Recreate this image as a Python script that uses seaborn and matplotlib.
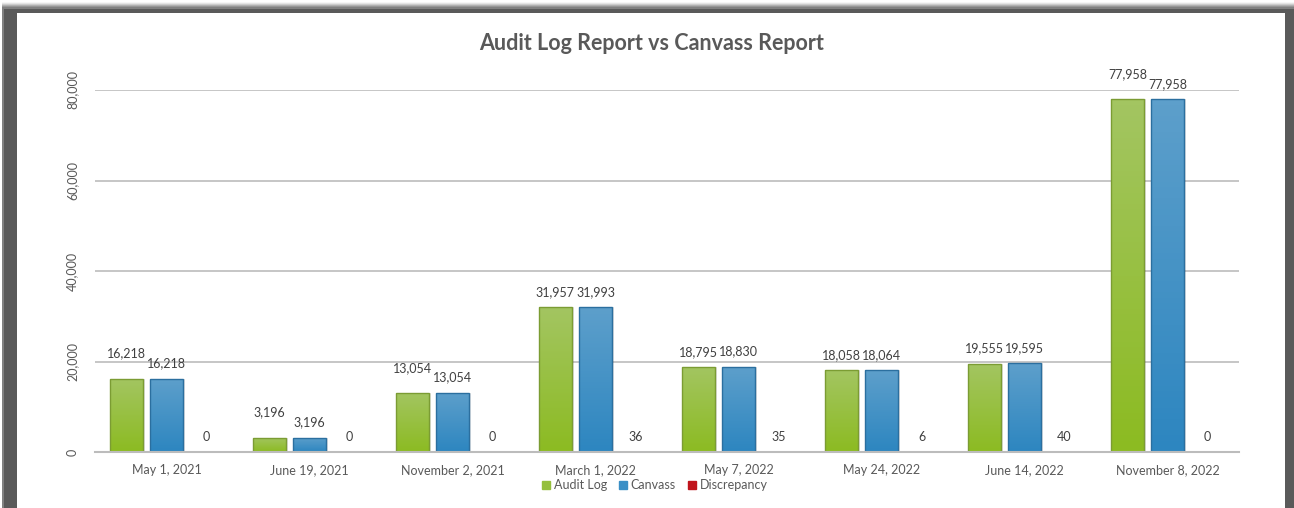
import numpy as np
import pandas as pd
import matplotlib
matplotlib.use("Agg")
import matplotlib.pyplot as plt
import seaborn as sns
from matplotlib.colors import LinearSegmentedColormap
from matplotlib.patches import Rectangle
from matplotlib.ticker import FuncFormatter

# ---- data ----
dates = ["May 1, 2021", "June 19, 2021", "November 2, 2021", "March 1, 2022",
         "May 7, 2022", "May 24, 2022", "June 14, 2022", "November 8, 2022"]
audit_log = [16218, 3196, 13054, 31957, 18795, 18058, 19555, 77958]
canvass = [16218, 3196, 13054, 31993, 18830, 18064, 19595, 77958]
discrepancy = [0, 0, 0, 36, 35, 6, 40, 0]
series_names = ["Audit Log", "Canvass", "Discrepancy"]

df = pd.DataFrame({
    "Date": dates * 3,
    "Series": [series_names[0]] * 8 + [series_names[1]] * 8 + [series_names[2]] * 8,
    "Value": audit_log + canvass + discrepancy,
})

# ---- style ----
sns.set_theme(style="white")
plt.rcParams["font.family"] = ["Lato", "DejaVu Sans"]

flat = {"Audit Log": "#95bf3c", "Canvass": "#3a8fc6", "Discrepancy": "#c0141c"}
grad = {
    "Audit Log": ("#a3c561", "#8cbb22"),
    "Canvass": ("#5d9fcb", "#2d86c0"),
    "Discrepancy": ("#d0202a", "#a80c14"),
}
edge = {"Audit Log": "#7b9c33", "Canvass": "#2b6f9f", "Discrepancy": "#c0141c"}

W, H = 1294, 508
fig = plt.figure(figsize=(W / 100, H / 100), dpi=100)
fig.patch.set_facecolor("white")

# dark frame with a soft shadow along the top
for i, a in enumerate(np.linspace(0.05, 0.35, 6)):
    fig.patches.append(Rectangle((2 / W, 0), (W - 2) / W, 1 - (2 + i) / H,
                                 transform=fig.transFigure, color="#5a5a5a",
                                 alpha=a, zorder=-5, lw=0))
fig.patches.append(Rectangle((4 / W, 0), (W - 4) / W, 1 - 9 / H,
                             transform=fig.transFigure, color="#5a5a5a",
                             zorder=-4, lw=0))
fig.patches.append(Rectangle((17 / W, 0), (1285 - 17) / W, 1 - 13 / H,
                             transform=fig.transFigure, color="white",
                             zorder=-3, lw=0))

ax = fig.add_axes([95 / W, 1 - 452 / H, (1239 - 95) / W, (452 - 90) / H])
ax.set_facecolor("none")

sns.barplot(data=df, x="Date", y="Value", hue="Series", order=dates,
            hue_order=series_names, palette=flat, width=0.84, gap=0.18,
            ax=ax, legend=False, zorder=3, linewidth=0)

ax.set_ylim(0, 80000)
ax.set_yticks([0, 20000, 40000, 60000, 80000])
ax.yaxis.set_major_formatter(FuncFormatter(lambda v, p: f"{int(v):,}"))
ax.grid(axis="y", color="#bcbcbc", linewidth=1.2, zorder=0)
ax.grid(axis="x", visible=False)
for s in ["left", "right", "top"]:
    ax.spines[s].set_visible(False)
ax.spines["bottom"].set_color("#bcbcbc")
ax.spines["bottom"].set_linewidth(1.5)
ax.spines["bottom"].set_zorder(4)
ax.set_xlabel("")
ax.set_ylabel("")
ax.tick_params(axis="y", length=0, pad=12, labelsize=9, labelcolor="#595959")
ax.tick_params(axis="x", length=0, pad=9, labelsize=9, labelcolor="#595959")
for lab in ax.get_yticklabels():
    lab.set_rotation(90)
    lab.set_va("center")

# gradient fill, outline and drop shadow for each bar
containers = ax.containers
for name, cont in zip(series_names, containers):
    cmap = LinearSegmentedColormap.from_list(name, [grad[name][1], grad[name][0]])
    for bar in cont:
        x0, y0 = bar.get_x(), bar.get_y()
        w, h = bar.get_width(), bar.get_height()
        if h < 500:
            continue
        shadow = Rectangle((x0 + 0.012, y0), w, h, color="#000000", alpha=0.12,
                           lw=0, zorder=2)
        ax.add_patch(shadow)
        img = ax.imshow(np.linspace(0, 1, 64).reshape(-1, 1), cmap=cmap,
                        extent=(x0, x0 + w, y0, y0 + h), origin="lower",
                        aspect="auto", zorder=3.5)
        img.set_clip_path(bar)
        outline = Rectangle((x0, y0), w, h, fill=False, ec=edge[name], lw=1.0,
                            zorder=3.6)
        ax.add_patch(outline)
ax.set_xlim(-0.5, len(dates) - 0.5)

# value labels
for si, (name, cont) in enumerate(zip(series_names, containers)):
    vals = [audit_log, canvass, discrepancy][si]
    for i, bar in enumerate(cont):
        off = 11
        if si == 0 and audit_log[i] == canvass[i]:
            off = 18
        ax.annotate(f"{vals[i]:,}", (bar.get_x() + bar.get_width() / 2, vals[i]),
                    xytext=(0, off), textcoords="offset points", ha="center",
                    va="center", fontsize=9, color="#404040", annotation_clip=False,
                    zorder=5)

fig.text(652 / W, 1 - 43 / H, "Audit Log Report vs Canvass Report",
         ha="center", va="center", fontsize=15.5, fontweight="bold", color="#595959")

handles = [Rectangle((0, 0), 1, 1, color=flat[n]) for n in series_names]
fig.legend(handles, series_names, loc="center", bbox_to_anchor=(655 / W, 1 - 485 / H),
           ncol=3, frameon=False, fontsize=9, handlelength=0.6, handleheight=0.6,
           handletextpad=0.3, columnspacing=1.0, labelcolor="#595959")

fig.savefig("out.png", dpi=100)
